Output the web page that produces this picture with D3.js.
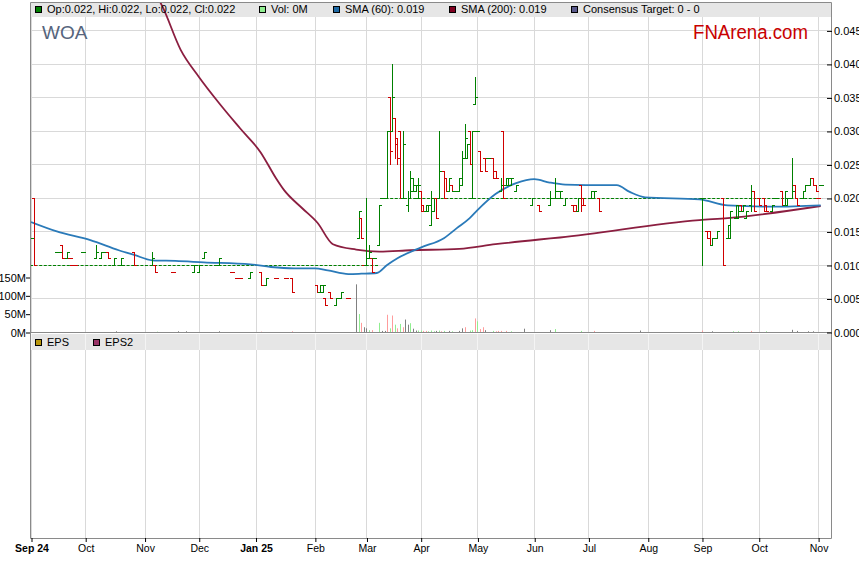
<!DOCTYPE html>
<html><head><meta charset="utf-8">
<script src="https://cdn.jsdelivr.net/npm/d3@7"></script>
<style>
body{margin:0;background:#fff}
svg{display:block;font-family:"Liberation Sans",Arial,sans-serif}
</style>
</head><body>
<svg id="c" width="859" height="566"></svg>
<script>
// ---------- DATA ----------
const barDates=["2024-09-02","2024-09-03","2024-09-16","2024-09-17","2024-09-18","2024-09-20","2024-09-23","2024-09-24","2024-09-25","2024-09-30",
"2024-10-07","2024-10-09","2024-10-10","2024-10-11","2024-10-14","2024-10-16","2024-10-21","2024-10-28","2024-11-06","2024-11-07",
"2024-11-18","2024-11-28","2024-12-02","2024-12-04","2024-12-12","2024-12-19","2024-12-23","2024-12-24","2024-12-30","2025-01-03",
"2025-01-07","2025-01-13","2025-01-17","2025-01-21","2025-02-04","2025-02-05","2025-02-06","2025-02-07","2025-02-11","2025-02-13",
"2025-02-17","2025-02-20","2025-02-26","2025-02-27","2025-02-28","2025-03-03","2025-03-04","2025-03-05","2025-03-06","2025-03-10",
"2025-03-11","2025-03-13","2025-03-14","2025-03-17","2025-03-18","2025-03-19","2025-03-20","2025-03-21","2025-03-25","2025-03-26",
"2025-03-27","2025-03-28","2025-03-31","2025-04-01","2025-04-02","2025-04-03","2025-04-04","2025-04-07","2025-04-08","2025-04-09",
"2025-04-10","2025-04-14","2025-04-15","2025-04-16","2025-04-17","2025-04-18","2025-04-21","2025-04-22","2025-04-23","2025-04-24",
"2025-04-25","2025-04-28","2025-04-29","2025-04-30","2025-05-01","2025-05-02","2025-05-06","2025-05-07","2025-05-09","2025-05-12",
"2025-05-14","2025-05-15","2025-05-16","2025-05-19","2025-05-20","2025-05-22","2025-05-30","2025-06-04","2025-06-10","2025-06-12",
"2025-06-13","2025-06-16","2025-06-18","2025-06-23","2025-06-24","2025-06-25","2025-06-26","2025-06-27","2025-07-02","2025-07-03",
"2025-07-07","2025-09-01","2025-09-03","2025-09-04","2025-09-05","2025-09-09","2025-09-11","2025-09-15","2025-09-16","2025-09-18",
"2025-09-19","2025-09-22","2025-09-23","2025-09-24","2025-09-26","2025-09-29","2025-10-01","2025-10-03","2025-10-06","2025-10-08",
"2025-10-09","2025-10-14","2025-10-15","2025-10-16","2025-10-20","2025-10-21","2025-10-22","2025-10-24","2025-10-27","2025-10-29",
"2025-10-30","2025-10-31","2025-11-03","2025-11-04"];
const barOpen=[.014,.020,.012,.012,.013,.011,.011,.010,.010,.012,
.011,.011,.012,.012,.012,.010,.010,.012,.010,.010,
.009,.009,.009,.011,.010,.009,.008,.008,.008,.009,
.007,.008,.008,.008,.007,.006,.006,.005,.006,.004,
.005,.005,.014,.017,.010,.010,.011,.011,.011,.013,
.020,.020,.035,.030,.032,.029,.030,.020,.019,.020,
.021,.021,.020,.021,.019,.018,.018,.016,.018,.020,
.020,.024,.023,.021,.022,.021,.021,.021,.022,.026,
.026,.030,.020,.034,.030,.027,.026,.026,.026,.024,
.021,.030,.022,.022,.022,.021,.019,.019,.019,.020,
.021,.020,.019,.019,.019,.018,.022,.020,.020,.020,
.020,.020,.015,.015,.013,.014,.020,.014,.014,.017,
.017,.019,.018,.017,.019,.021,.020,.020,.019,.018,
.020,.021,.019,.019,.020,.022,.020,.020,.021,.022,
.023,.022,.020,.022];
const barHigh=[.014,.020,.012,.012,.013,.012,.011,.010,.010,.012,
.013,.012,.012,.012,.012,.011,.011,.012,.012,.010,
.009,.010,.010,.012,.011,.009,.008,.008,.009,.009,
.008,.008,.008,.008,.007,.007,.007,.005,.006,.005,
.006,.005,.018,.017,.010,.020,.013,.011,.011,.019,
.020,.030,.035,.040,.032,.029,.030,.030,.021,.024,
.023,.022,.023,.021,.019,.019,.019,.021,.020,.020,
.030,.024,.023,.023,.022,.021,.021,.023,.027,.031,
.028,.030,.030,.038,.030,.027,.026,.026,.026,.024,
.023,.030,.023,.023,.023,.022,.020,.019,.021,.023,
.021,.021,.020,.019,.019,.020,.022,.020,.021,.021,
.020,.020,.015,.015,.014,.015,.020,.016,.018,.019,
.019,.019,.019,.018,.022,.021,.020,.020,.019,.019,
.020,.021,.021,.020,.026,.022,.020,.021,.022,.023,
.023,.022,.020,.022];
const barLow=[.014,.010,.012,.012,.011,.011,.011,.010,.010,.012,
.011,.011,.012,.012,.011,.010,.010,.010,.010,.009,
.009,.009,.009,.011,.010,.009,.008,.008,.008,.007,
.007,.008,.008,.006,.006,.006,.006,.004,.005,.004,
.005,.005,.014,.014,.010,.010,.011,.009,.011,.013,
.020,.020,.025,.030,.026,.025,.020,.020,.018,.020,
.021,.021,.020,.018,.018,.018,.018,.016,.018,.017,
.020,.020,.021,.021,.021,.021,.021,.021,.022,.026,
.026,.025,.020,.034,.030,.024,.024,.026,.023,.023,
.021,.020,.022,.022,.022,.021,.019,.018,.019,.020,
.021,.020,.019,.018,.018,.018,.018,.019,.020,.020,
.018,.010,.014,.013,.013,.014,.010,.014,.014,.017,
.017,.018,.018,.017,.018,.018,.019,.018,.018,.018,
.020,.019,.019,.019,.020,.020,.019,.020,.021,.022,
.022,.021,.020,.022];
const barClose=[.014,.010,.012,.012,.011,.012,.011,.010,.010,.012,
.012,.012,.012,.012,.011,.011,.011,.010,.011,.009,
.009,.010,.010,.012,.011,.009,.008,.008,.009,.007,
.008,.008,.008,.006,.006,.007,.007,.004,.005,.005,
.006,.005,.018,.014,.010,.011,.012,.009,.011,.019,
.020,.030,.027,.035,.028,.026,.020,.028,.020,.023,
.022,.022,.022,.018,.018,.019,.019,.020,.020,.017,
.024,.020,.021,.023,.021,.021,.021,.023,.026,.029,
.028,.025,.030,.035,.030,.024,.024,.026,.023,.023,
.022,.020,.023,.023,.023,.022,.020,.018,.020,.021,
.021,.021,.020,.018,.018,.020,.019,.019,.021,.021,
.018,.020,.014,.013,.014,.015,.010,.016,.018,.019,
.018,.018,.019,.018,.021,.018,.019,.018,.018,.019,
.020,.019,.021,.020,.021,.020,.019,.021,.022,.023,
.022,.021,.020,.022];
const barDir="uduududddu"+"uuuuduudud"+"duuuudddud"+"udddduuddu"+"ududduuduu"+
"uududdduuu"+"uuudduuuud"+"udduduuuuu"+"uduuuddudd"+"uduuuuuduu"+
"uuuddudduu"+"dudduuduuu"+"uduuuddddu"+"uduuudduuu"+"dddu";

const volDates=["2024-10-17","2024-11-08","2024-11-20","2024-11-25","2024-12-12","2025-01-03","2025-01-21",
"2025-02-25","2025-02-26","2025-02-27","2025-02-28","2025-03-03","2025-03-04","2025-03-05","2025-03-10","2025-03-11","2025-03-12",
"2025-03-13","2025-03-14","2025-03-17","2025-03-18","2025-03-19","2025-03-20","2025-03-21","2025-03-24","2025-03-25","2025-03-26",
"2025-03-27","2025-03-28","2025-03-31","2025-04-01","2025-04-02","2025-04-03","2025-04-04","2025-04-07","2025-04-08","2025-04-09",
"2025-04-10","2025-04-11","2025-04-14","2025-04-16","2025-04-17","2025-04-22","2025-04-23","2025-04-24","2025-04-28","2025-04-29",
"2025-04-30","2025-05-01","2025-05-02","2025-05-05","2025-05-06","2025-05-09","2025-05-12","2025-05-13","2025-05-14","2025-05-16",
"2025-05-20","2025-05-27","2025-06-10","2025-06-12","2025-06-26","2025-07-03","2025-07-29","2025-09-01","2025-09-05","2025-09-17",
"2025-09-19","2025-09-26","2025-10-06","2025-10-20","2025-10-22","2025-10-28","2025-10-30"];
const volValues=[2,1,2,2,2,1,2,
130,49,25,13,10,5,5,25,3,3,
47,10,45,20,10,22,13,34,20,24,
9,4,4,4,3,3,2,4,2,3,
4,2,3,3,2,3,10,13,4,5,
37,29,8,13,5,3,2,3,3,3,
2,9,5,8,3,3,4,4,2,2,
2,3,2,6,3,2,2];
const volDir="nunnndd"+"nudnnudunn"+"dudududnnun"+"nuudduuunud"+"ununnduudu"+"ddnudddd"+"unnuudndnu"+"udun";

const sma60Dates=["2024-09-02","2024-09-16","2024-10-03","2024-10-18","2024-10-28","2024-11-06","2024-11-19","2024-12-04","2024-12-30",
"2025-01-09","2025-01-22","2025-02-03","2025-02-10","2025-02-20","2025-02-27","2025-03-07","2025-03-13","2025-03-19","2025-04-01",
"2025-04-14","2025-04-21","2025-04-28","2025-05-01","2025-05-12","2025-05-22","2025-06-02","2025-06-10","2025-06-18","2025-07-10",
"2025-07-16","2025-07-23","2025-07-31","2025-08-29","2025-09-15","2025-10-09","2025-11-04"];
const sma60Values=[.0164,.0150,.0137,.0122,.0115,.0107,.0106,.0104,.0101,
.0097,.0095,.0095,.0092,.00865,.0087,.0088,.0100,.0110,.0126,
.0140,.0155,.0170,.0182,.0206,.0222,.0228,.0223,.0220,.0219,
.0219,.0209,.0201,.0198,.0189,.0187,.0189];

const sma200Dates=["2024-11-08","2024-11-12","2024-11-21","2024-12-02","2024-12-12","2024-12-24","2025-01-03","2025-01-13","2025-01-16",
"2025-01-27","2025-02-04","2025-02-12","2025-02-25","2025-03-10","2025-03-26","2025-04-22","2025-05-12","2025-06-04","2025-06-16",
"2025-08-29","2025-09-15","2025-11-04"];
const sma200Values=[.0500,.0485,.0421,.0381,.0341,.0304,.0268,.0229,.0212,
.0185,.0163,.0131,.0123,.0120,.0122,.0124,.0131,.0138,.0141,
.0167,.0170,.0188];

const refStarts=["2024-09-02","2025-03-11"];
const refEnds=["2025-03-07","2025-11-04"];
const refLevels=[.010,.020];

const priceTicks=[0,.005,.010,.015,.020,.025,.030,.035,.040,.045];
const volTicks=[0,50,100,150];
const monthTickDates=["2024-09-02","2024-10-01","2024-11-01","2024-12-02","2025-01-01","2025-02-03","2025-03-03","2025-04-01",
"2025-05-01","2025-06-02","2025-07-01","2025-08-01","2025-09-01","2025-10-01","2025-11-03"];
const monthTickLabels=["Sep 24","Oct","Nov","Dec","Jan 25","Feb","Mar","Apr","May","Jun","Jul","Aug","Sep","Oct","Nov"];

// ---------- SCALES ----------
const parse=d3.utcParse("%Y-%m-%d");
const t0=parse("2024-09-02");
function wd(s){const n=Math.round((parse(s)-t0)/864e5);return Math.floor(n/7)*5+Math.min(n%7,5);}
const L=31,R=831,T=17,B=332;
const x=d3.scaleLinear().domain([0,310]).range([L,R]);
const y=d3.scaleLinear().domain([0,.047]).range([B,T]);
const yv=d3.scaleLinear().domain([0,150]).range([B,277]);
const px=v=>Math.round(v)+0.5;

const svg=d3.select("#c");
svg.append("rect").attr("width",859).attr("height",566).attr("fill","#fff");

// legend bands
svg.append("rect").attr("x",L).attr("y",3).attr("width",R-L).attr("height",14).attr("fill","#e6e6e6");
svg.append("rect").attr("x",L).attr("y",334).attr("width",R-L).attr("height",16).attr("fill","#e6e6e6");

// grid
const grid=svg.append("g").attr("stroke","#d9d9d9").attr("stroke-width",1);
priceTicks.forEach(v=>grid.append("line").attr("x1",L).attr("x2",R).attr("y1",px(y(v))).attr("y2",px(y(v))));
monthTickDates.forEach(d=>{
  const xx=px(x(wd(d)));
  grid.append("line").attr("x1",xx).attr("x2",xx).attr("y1",T).attr("y2",B);
  grid.append("line").attr("x1",xx).attr("x2",xx).attr("y1",350).attr("y2",538);
  grid.append("line").attr("x1",xx).attr("x2",xx).attr("y1",334).attr("y2",350).attr("stroke","#f4f4f4");
});

// clip
svg.append("clipPath").attr("id","cp").append("rect").attr("x",L).attr("y",3).attr("width",R-L).attr("height",B-3);
const plot=svg.append("g").attr("clip-path","url(#cp)");

// volume
const volColor={u:"#90ee90",d:"#ff9c9c",n:"#808080"};
plot.append("g").selectAll("line").data(volDates).join("line")
  .attr("x1",(d)=>px(x(wd(d)))).attr("x2",(d)=>px(x(wd(d))))
  .attr("y1",B).attr("y2",(d,i)=>yv(volValues[i]))
  .attr("stroke",(d,i)=>volColor[volDir[i]]||"#808080").attr("stroke-width",1);

// dashed reference levels
refStarts.forEach((s,i)=>{
  plot.append("line").attr("x1",x(wd(s))-1).attr("x2",x(wd(refEnds[i]))+2)
    .attr("y1",px(y(refLevels[i]))).attr("y2",px(y(refLevels[i])))
    .attr("stroke","#008000").attr("stroke-width",1.2).attr("stroke-dasharray","3,1.6");
});

// SMA lines
const lineGen=(dates,vals)=>d3.line().x((d,i)=>x(wd(dates[i]))).y((d,i)=>y(vals[i])).curve(d3.curveMonotoneX)(vals);
plot.append("path").attr("d",lineGen(sma200Dates,sma200Values)).attr("fill","none").attr("stroke","#8b1e40").attr("stroke-width",1.8);
plot.append("path").attr("d",lineGen(sma60Dates,sma60Values)).attr("fill","none").attr("stroke","#2a7ab9").attr("stroke-width",1.8);

// OHLC bars
const bars=plot.append("g").attr("stroke-width",1);
barDates.forEach((d,i)=>{
  const xx=px(x(wd(d)));
  const c=barDir[i]==="u"?"#008000":"#d00000";
  const g=bars.append("g").attr("stroke",c);
  const yh=Math.round(y(barHigh[i])), yl=Math.round(y(barLow[i]));
  if(yl>yh) g.append("line").attr("x1",xx).attr("x2",xx).attr("y1",yh).attr("y2",yl+1);
  const yo=px(y(barOpen[i])), yc=px(y(barClose[i]));
  g.append("line").attr("x1",xx-2.5).attr("x2",xx+0.5).attr("y1",yo).attr("y2",yo);
  g.append("line").attr("x1",xx-0.5).attr("x2",xx+2.5).attr("y1",yc).attr("y2",yc);
});

// frame
const fr=svg.append("g").attr("stroke","#8a8a8a").attr("fill","none");
fr.append("line").attr("x1",L-0.5).attr("x2",L-0.5).attr("y1",2.5).attr("y2",538.5);
fr.append("line").attr("x1",R+0.5).attr("x2",R+0.5).attr("y1",2.5).attr("y2",538.5);
fr.append("line").attr("x1",L-0.5).attr("x2",R+0.5).attr("y1",2.5).attr("y2",2.5);
fr.append("line").attr("x1",L-0.5).attr("x2",R+0.5).attr("y1",332.5).attr("y2",332.5);
fr.append("line").attr("x1",L-0.5).attr("x2",R+0.5).attr("y1",538.5).attr("y2",538.5);

// right price axis (ticks point inward, labels just right of frame)
const ra=svg.append("g").attr("transform",`translate(${R+1},0.5)`)
  .call(d3.axisRight(y).tickValues(priceTicks).tickSizeInner(-5).tickSizeOuter(0).tickPadding(3).tickFormat(d3.format(".3f")));
ra.select(".domain").remove();
ra.selectAll("text").attr("font-size",11).attr("font-family","Liberation Sans, Arial").attr("fill","#000").attr("x",2);
ra.selectAll("line").attr("stroke","#000");

// left volume axis
const la=svg.append("g").attr("transform",`translate(${L-1},0.5)`)
  .call(d3.axisLeft(yv).tickValues(volTicks).tickSize(4).tickFormat(d=>d+"M"));
la.select(".domain").remove();
la.selectAll("text").attr("font-size",11).attr("font-family","Liberation Sans, Arial").attr("fill","#000").attr("x",-4);
la.selectAll("line").attr("stroke","#000");

// bottom axis
const ba=svg.append("g").attr("transform",`translate(0.5,538)`)
  .call(d3.axisBottom(x).tickValues(monthTickDates.map(wd)).tickSize(4).tickFormat((d,i)=>monthTickLabels[i]));
ba.select(".domain").remove();
ba.selectAll("line").attr("stroke","#000");
ba.selectAll("text").attr("font-size",10.5).attr("font-family","Liberation Sans, Arial").attr("fill","#000").attr("y",7)
  .attr("font-weight",(d,i)=>/\d/.test(monthTickLabels[i])?"bold":"normal");

// legends
function legend(items,yy){
  items.forEach(it=>{
    svg.append("rect").attr("x",it.x+0.5).attr("y",yy+0.5).attr("width",6).attr("height",6).attr("fill",it.c).attr("stroke","#000");
    svg.append("text").attr("x",it.x+12).attr("y",yy+7).attr("font-size",11).attr("fill","#000").text(it.t);
  });
}
legend([
  {x:35,c:"#008000",t:"Op:0.022, Hi:0.022, Lo:0.022, Cl:0.022"},
  {x:259,c:"#90ee90",t:"Vol: 0M"},
  {x:333,c:"#1f6aa5",t:"SMA (60): 0.019"},
  {x:449,c:"#800020",t:"SMA (200): 0.019"},
  {x:571,c:"#5a5a8c",t:"Consensus Target: 0 - 0"}
],6);
legend([
  {x:35,c:"#b8960c",t:"EPS"},
  {x:93,c:"#993366",t:"EPS2"}
],339);

svg.append("text").attr("x",42).attr("y",39).attr("font-size",19).attr("fill","#56657d").text("WOA");
svg.append("text").attr("x",693).attr("y",39).attr("font-size",20).attr("fill","#c80000")
  .attr("textLength",115).attr("lengthAdjust","spacingAndGlyphs").text("FNArena.com");
</script>
</body></html>
